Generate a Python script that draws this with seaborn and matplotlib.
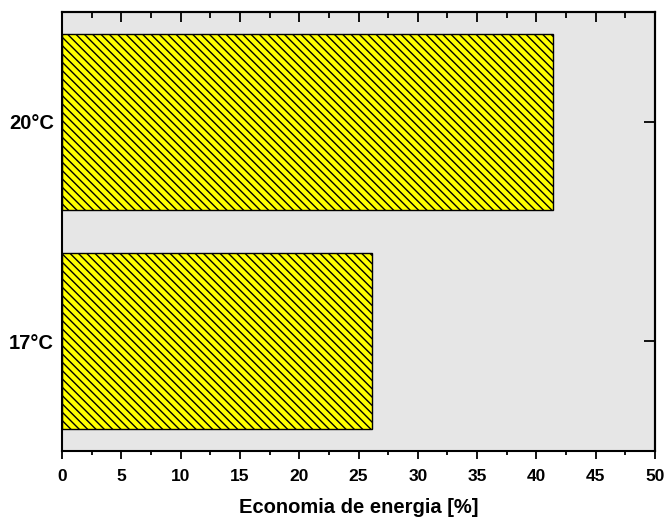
import numpy as np
import pandas as pd
import matplotlib
matplotlib.use("Agg")
import matplotlib.pyplot as plt
import seaborn as sns
from matplotlib.ticker import MultipleLocator

# data
temperaturas = ["20°C", "17°C"]
economia = [41.4, 26.1]

BG_COLOR = "#e6e6e6"
BAR_COLOR = "#ffff00"

sns.set_theme(style="white")
plt.rcParams['font.family'] = ['Liberation Sans', 'DejaVu Sans']
plt.rcParams['hatch.linewidth'] = 1.0
plt.rcParams['hatch.color'] = 'black'
plt.rcParams['text.color'] = 'black'
plt.rcParams['axes.labelcolor'] = 'black'
plt.rcParams['xtick.color'] = 'black'
plt.rcParams['ytick.color'] = 'black'

df = pd.DataFrame({"temp": temperaturas, "economia": economia})

fig = plt.figure(figsize=(6.65, 5.2), dpi=100)
ax = fig.add_axes([0.0932, 0.1327, 0.8918, 0.8443])
ax.set_facecolor(BG_COLOR)

sns.barplot(data=df, y="temp", x="economia", orient="h", color=BAR_COLOR,
            saturation=1, width=0.8, edgecolor="black", linewidth=1.0,
            hatch="\\\\\\\\", ax=ax)

ax.set_xlim(0, 50)
ax.set_ylim(1.5, -0.5)
ax.xaxis.set_major_locator(MultipleLocator(5))
ax.xaxis.set_minor_locator(MultipleLocator(2.5))

for s in ax.spines.values():
    s.set_visible(True)
    s.set_color("black")
    s.set_linewidth(1.5)

ax.tick_params(axis="x", which="major", direction="out", length=6, width=1.3,
               colors="black", bottom=True, top=False, labelsize=12.5, pad=7)
ax.tick_params(axis="x", which="minor", direction="out", length=3, width=1.3,
               colors="black", bottom=True, top=False)
ax.tick_params(axis="y", which="major", left=False, right=False, labelsize=14.5,
               colors="black", pad=0)

# top and right inward ticks via secondary axes
top = ax.secondary_xaxis("top")
top.xaxis.set_major_locator(MultipleLocator(5))
top.xaxis.set_minor_locator(MultipleLocator(2.5))
top.tick_params(which="major", direction="in", length=7, width=1.3, colors="black", labeltop=False)
top.tick_params(which="minor", direction="in", length=4, width=1.3, colors="black")
top.spines["top"].set_linewidth(1.5)
top.spines["top"].set_color("black")

right = ax.secondary_yaxis("right")
right.set_yticks([0, 1])
right.tick_params(direction="in", length=8, width=1.3, colors="black", labelright=False)
right.spines["right"].set_linewidth(1.5)
right.spines["right"].set_color("black")

for lab in ax.get_xticklabels() + ax.get_yticklabels():
    lab.set_fontweight("bold")
    lab.set_color("black")

ax.set_ylabel("")
ax.set_xlabel("Economia de energia [%]", fontsize=14.5, fontweight="bold",
              color="black", labelpad=10)

fig.savefig("out.png", dpi=100, facecolor="white")
